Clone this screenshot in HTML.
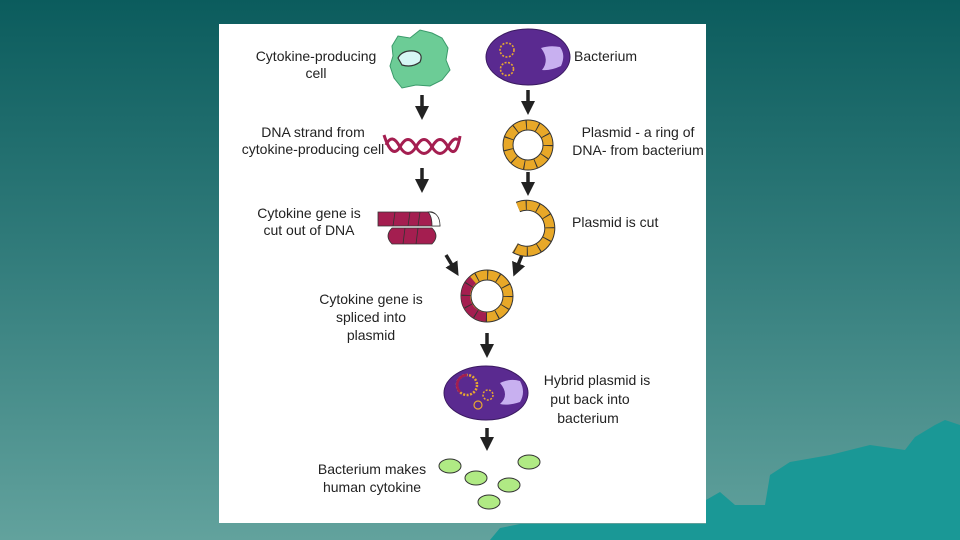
<!DOCTYPE html>
<html><head><style>
html,body{margin:0;padding:0;width:960px;height:540px;overflow:hidden}
svg{display:block}
text{font-family:"Liberation Sans",sans-serif;font-size:14px;fill:#222}
</style></head><body>
<svg width="960" height="540" viewBox="0 0 960 540">
<defs>
<linearGradient id="bg" x1="0" y1="0" x2="0" y2="1">
<stop offset="0" stop-color="#0b5c5d"/><stop offset="0.5" stop-color="#347e7d"/><stop offset="1" stop-color="#62a29d"/>
</linearGradient>
<marker id="ah" markerWidth="4" markerHeight="4" refX="2" refY="2" orient="auto" markerUnits="strokeWidth"><path d="M0,0 L4,2 L0,4 Z" fill="#222"/></marker>
</defs>
<rect width="960" height="540" fill="url(#bg)"/>
<polygon points="490,540 500,528 520,524 706,524 706,500 720,492 735,505 765,505 770,475 790,462 830,455 870,445 905,450 915,437 935,425 945,420 960,425 960,540" fill="#1a9896"/>
<rect x="219" y="24" width="487" height="499" fill="#fff"/>

<g text-anchor="middle">
<text x="316" y="61">Cytokine-producing</text><text x="316" y="78">cell</text>
<text x="313" y="137">DNA strand from</text><text x="313" y="154">cytokine-producing cell</text>
<text x="309" y="218">Cytokine gene is</text><text x="309" y="235">cut out of DNA</text>
<text x="371" y="304">Cytokine gene is</text><text x="371" y="322">spliced into</text><text x="371" y="340">plasmid</text>
<text x="372" y="474">Bacterium makes</text><text x="372" y="492">human cytokine</text>
<text x="638" y="137">Plasmid - a ring of</text><text x="638" y="155">DNA- from bacterium</text>
<text x="597" y="385">Hybrid plasmid is</text><text x="590" y="404">put back into</text><text x="588" y="423">bacterium</text>
</g>
<text x="574" y="61">Bacterium</text>
<text x="572" y="227">Plasmid is cut</text>

<g stroke="#222" stroke-width="3.5" marker-end="url(#ah)">
<line x1="422" y1="95" x2="422" y2="113"/>
<line x1="528" y1="90" x2="528" y2="108"/>
<line x1="422" y1="168" x2="422" y2="186"/>
<line x1="528" y1="172" x2="528" y2="189"/>
<line x1="446" y1="255" x2="455" y2="270"/>
<line x1="522" y1="255" x2="516" y2="270"/>
<line x1="487" y1="333" x2="487" y2="351"/>
<line x1="487" y1="428" x2="487" y2="444"/>
</g>

<path d="M392,46 L398,36 L410,38 L420,30 L432,33 L442,38 L448,48 L446,60 L450,70 L442,80 L430,86 L416,85 L402,88 L394,78 L390,66 L393,56 Z" fill="#6ccc96" stroke="#3a9a6a" stroke-width="1"/>
<path d="M398,58 Q402,50 414,51 Q424,53 420,62 Q412,68 402,65 Z" fill="#d6f6f4" stroke="#333" stroke-width="1.2"/>

<ellipse cx="528" cy="57" rx="42" ry="28" fill="#5a2a90" stroke="#3a1a60"/>
<circle cx="507" cy="50" r="7" fill="none" stroke="#e8a830" stroke-width="1.6" stroke-dasharray="2 1.5"/>
<circle cx="507" cy="69" r="6.5" fill="none" stroke="#e8a830" stroke-width="1.6" stroke-dasharray="2 1.5"/>
<path d="M541,48 Q550,45 560,47 Q566,55 561,66 Q550,71 542,70 Q550,60 541,48 Z" fill="#c8b0f0"/>

<g fill="none" stroke="#a41e50" stroke-width="3">
<path d="M384,135 Q392,160 400,147 Q408,132 416,147 Q424,160 432,147 Q440,132 448,147 Q456,160 460,136"/>
<path d="M386,145 Q392,132 400,147 Q408,160 416,147 Q424,132 432,147 Q440,160 448,147 Q454,136 458,140"/>
</g>

<circle cx="528" cy="145" r="20" fill="none" stroke="#333" stroke-width="11"/>
<circle cx="528" cy="145" r="20" fill="none" stroke="#e8a828" stroke-width="9"/>
<circle cx="528" cy="145" r="20" fill="none" stroke="#333" stroke-width="9" stroke-dasharray="1 10.5"/>

<path d="M518,207 A23,23 0 1 1 515,248" fill="none" stroke="#333" stroke-width="11"/>
<path d="M518,207 A23,23 0 1 1 515,248" fill="none" stroke="#e8a828" stroke-width="9"/>
<path d="M518,207 A23,23 0 1 1 515,248" fill="none" stroke="#333" stroke-width="9" stroke-dasharray="1 11" stroke-dashoffset="-8"/>

<g fill="#a41e50" stroke="#333" stroke-width="0.8">
<path d="M392,228 L432,228 Q440,236 432,244 L392,244 Q384,236 392,228 Z"/>
<path d="M378,212 L428,212 Q438,210 440,226 L428,226 L378,226 Z"/>
</g>
<path d="M428,212 Q440,212 440,226 L432,226 Q432,216 428,212 Z" fill="#fff" stroke="#333" stroke-width="0.8"/>
<g stroke="#333" stroke-width="0.8"><line x1="395" y1="212" x2="393" y2="226"/><line x1="410" y1="212" x2="408" y2="226"/><line x1="420" y1="212" x2="418" y2="226"/><line x1="405" y1="228" x2="403" y2="244"/><line x1="418" y1="228" x2="416" y2="244"/></g>

<circle cx="487" cy="296" r="21" fill="none" stroke="#333" stroke-width="11"/>
<circle cx="487" cy="296" r="21" fill="none" stroke="#e8a828" stroke-width="9"/>
<path d="M487,317 A21,21 0 0 1 473,280" fill="none" stroke="#a41e50" stroke-width="9"/>
<circle cx="487" cy="296" r="21" fill="none" stroke="#333" stroke-width="9" stroke-dasharray="1 10"/>

<ellipse cx="486" cy="393" rx="42" ry="27" fill="#5a2a90" stroke="#3a1a60"/>
<circle cx="467" cy="385" r="10" fill="none" stroke="#e8a830" stroke-width="2.5" stroke-dasharray="2 1.5"/>
<path d="M467,375 A10,10 0 0 0 460,392" fill="none" stroke="#a41e50" stroke-width="2.5"/>
<circle cx="488" cy="395" r="5" fill="none" stroke="#e8a830" stroke-width="1.5" stroke-dasharray="2 1.5"/>
<circle cx="478" cy="405" r="4" fill="none" stroke="#e8a830" stroke-width="1.2"/>
<path d="M500,383 Q510,378 520,381 Q526,392 520,402 Q508,406 500,404 Q510,395 500,383 Z" fill="#c8b0f0"/>

<g fill="#b0ea84" stroke="#333" stroke-width="1">
<ellipse cx="450" cy="466" rx="11" ry="7"/><ellipse cx="476" cy="478" rx="11" ry="7"/>
<ellipse cx="529" cy="462" rx="11" ry="7"/><ellipse cx="509" cy="485" rx="11" ry="7"/>
<ellipse cx="489" cy="502" rx="11" ry="7"/>
</g>
</svg>
</body></html>
